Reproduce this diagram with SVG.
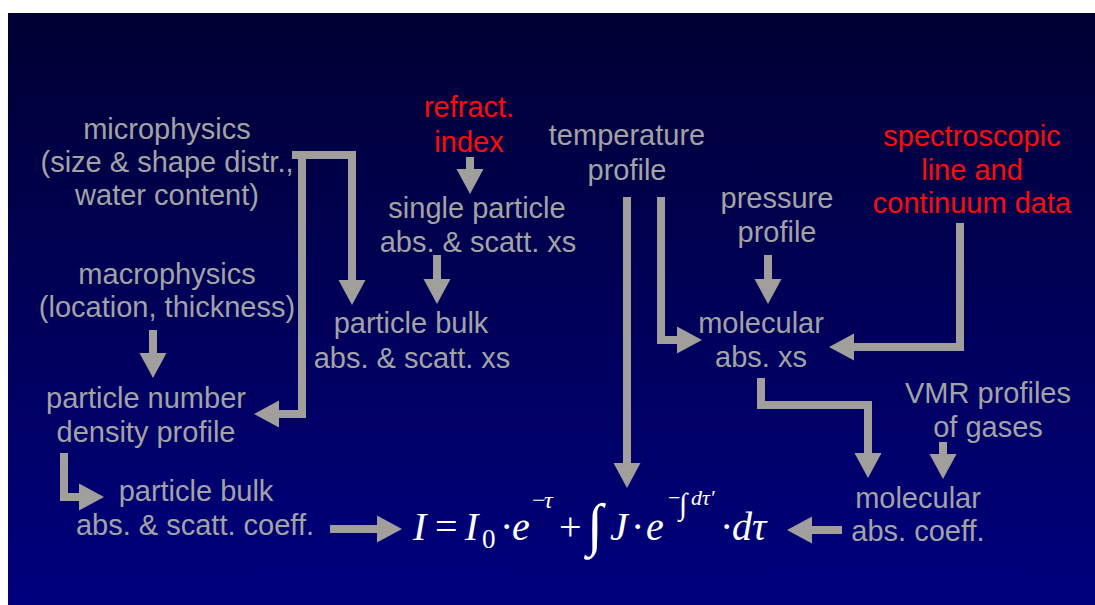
<svg xmlns="http://www.w3.org/2000/svg" width="1095" height="605" viewBox="0 0 1095 605">
  <defs>
    <linearGradient id="bg" x1="0" y1="0" x2="0" y2="1">
      <stop offset="0" stop-color="#000033"/>
      <stop offset="1" stop-color="#00007e"/>
    </linearGradient>
    <marker id="ah" markerUnits="userSpaceOnUse" markerWidth="26" markerHeight="27" refX="0" refY="13.5" orient="auto" overflow="visible">
      <path d="M0,0 L25,13.5 L0,27 Z" fill="#a09f9c"/>
    </marker>
    <style>
      .t { font-family: "Liberation Sans", Arial, sans-serif; font-size: 29px; fill: #a3a3a3; text-anchor: middle; }
      .r { fill: #ff0a0a; }
      .c { fill: none; stroke: #a09f9c; stroke-width: 8; stroke-linejoin: miter; marker-end: url(#ah); }
      .eq { font-family: "Liberation Serif", "Times New Roman", serif; fill: #ffffff; font-size: 40px; }
      .i { font-style: italic; }
    </style>
  </defs>
  <rect x="0" y="0" width="1095" height="605" fill="#ffffff"/>
  <rect x="8" y="13" width="1087" height="592" fill="url(#bg)"/>

  <g id="connectors">
    <path class="c" d="M292,155 H352 V280"/>
    <path class="c" d="M302,151 V414 H279"/>
    <path class="c" d="M153,330 V353"/>
    <path class="c" d="M64,453 V497 H79"/>
    <path class="c" d="M330,529 H377"/>
    <path class="c" d="M470,157 V169"/>
    <path class="c" d="M437,255 V279"/>
    <path class="c" d="M627,197 V463"/>
    <path class="c" d="M661,197 V340 H677"/>
    <path class="c" d="M768,255 V279"/>
    <path class="c" d="M960,223 V347 H854"/>
    <path class="c" d="M761,378 V405 H868 V453"/>
    <path class="c" d="M943,442 V454"/>
    <path class="c" d="M842,530 H812"/>
  </g>

  <g id="microphysics">
    <text class="t" x="167" y="139">microphysics</text>
    <text class="t" x="167" y="172">(size &amp; shape distr.,</text>
    <text class="t" x="167" y="205">water content)</text>
  </g>
  <g id="macrophysics">
    <text class="t" x="167" y="284">macrophysics</text>
    <text class="t" x="167" y="317">(location, thickness)</text>
  </g>
  <g id="particle-number-density">
    <text class="t" x="146" y="408">particle number</text>
    <text class="t" x="146" y="442">density profile</text>
  </g>
  <g id="particle-bulk-coeff">
    <text class="t" x="196" y="501">particle bulk</text>
    <text class="t" x="195" y="535">abs. &amp; scatt. coeff.</text>
  </g>
  <g id="refract-index">
    <text class="t r" x="469" y="117">refract.</text>
    <text class="t r" x="469" y="152">index</text>
  </g>
  <g id="single-particle">
    <text class="t" x="477" y="218">single particle</text>
    <text class="t" x="478" y="252">abs. &amp; scatt. xs</text>
  </g>
  <g id="particle-bulk-xs">
    <text class="t" x="411" y="333">particle bulk</text>
    <text class="t" x="412" y="368">abs. &amp; scatt. xs</text>
  </g>
  <g id="temperature-profile">
    <text class="t" x="627" y="145">temperature</text>
    <text class="t" x="627" y="180">profile</text>
  </g>
  <g id="pressure-profile">
    <text class="t" x="777" y="208">pressure</text>
    <text class="t" x="777" y="242">profile</text>
  </g>
  <g id="molecular-abs-xs">
    <text class="t" x="761" y="333">molecular</text>
    <text class="t" x="761" y="367">abs. xs</text>
  </g>
  <g id="spectroscopic-data">
    <text class="t r" x="972" y="146">spectroscopic</text>
    <text class="t r" x="972" y="180">line and</text>
    <text class="t r" x="972" y="213">continuum data</text>
  </g>
  <g id="vmr-profiles">
    <text class="t" x="988" y="403">VMR profiles</text>
    <text class="t" x="988" y="437">of gases</text>
  </g>
  <g id="molecular-abs-coeff">
    <text class="t" x="918" y="508">molecular</text>
    <text class="t" x="918" y="541">abs. coeff.</text>
  </g>

  <g id="equation">
    <text class="eq"><tspan class="i" x="413" y="540">I</tspan><tspan x="435" y="540">=</tspan><tspan class="i" x="465" y="540">I</tspan><tspan x="482" y="548" font-size="27">0</tspan><tspan x="500" y="540">·</tspan><tspan class="i" x="512" y="540">e</tspan><tspan x="532" y="508" font-size="24">−</tspan><tspan class="i" x="544" y="508" font-size="24">τ</tspan><tspan x="559" y="540">+</tspan><tspan x="587" y="544" font-size="58">∫</tspan><tspan class="i" x="610" y="540">J</tspan><tspan x="631" y="540">·</tspan><tspan class="i" x="646" y="540">e</tspan><tspan x="668" y="505" font-size="22">−</tspan><tspan x="679" y="514" font-size="30">∫</tspan><tspan class="i" x="691" y="505" font-size="22">dτ'</tspan><tspan x="720" y="540">·</tspan><tspan class="i" x="732" y="540">dτ</tspan></text>
  </g>
</svg>
